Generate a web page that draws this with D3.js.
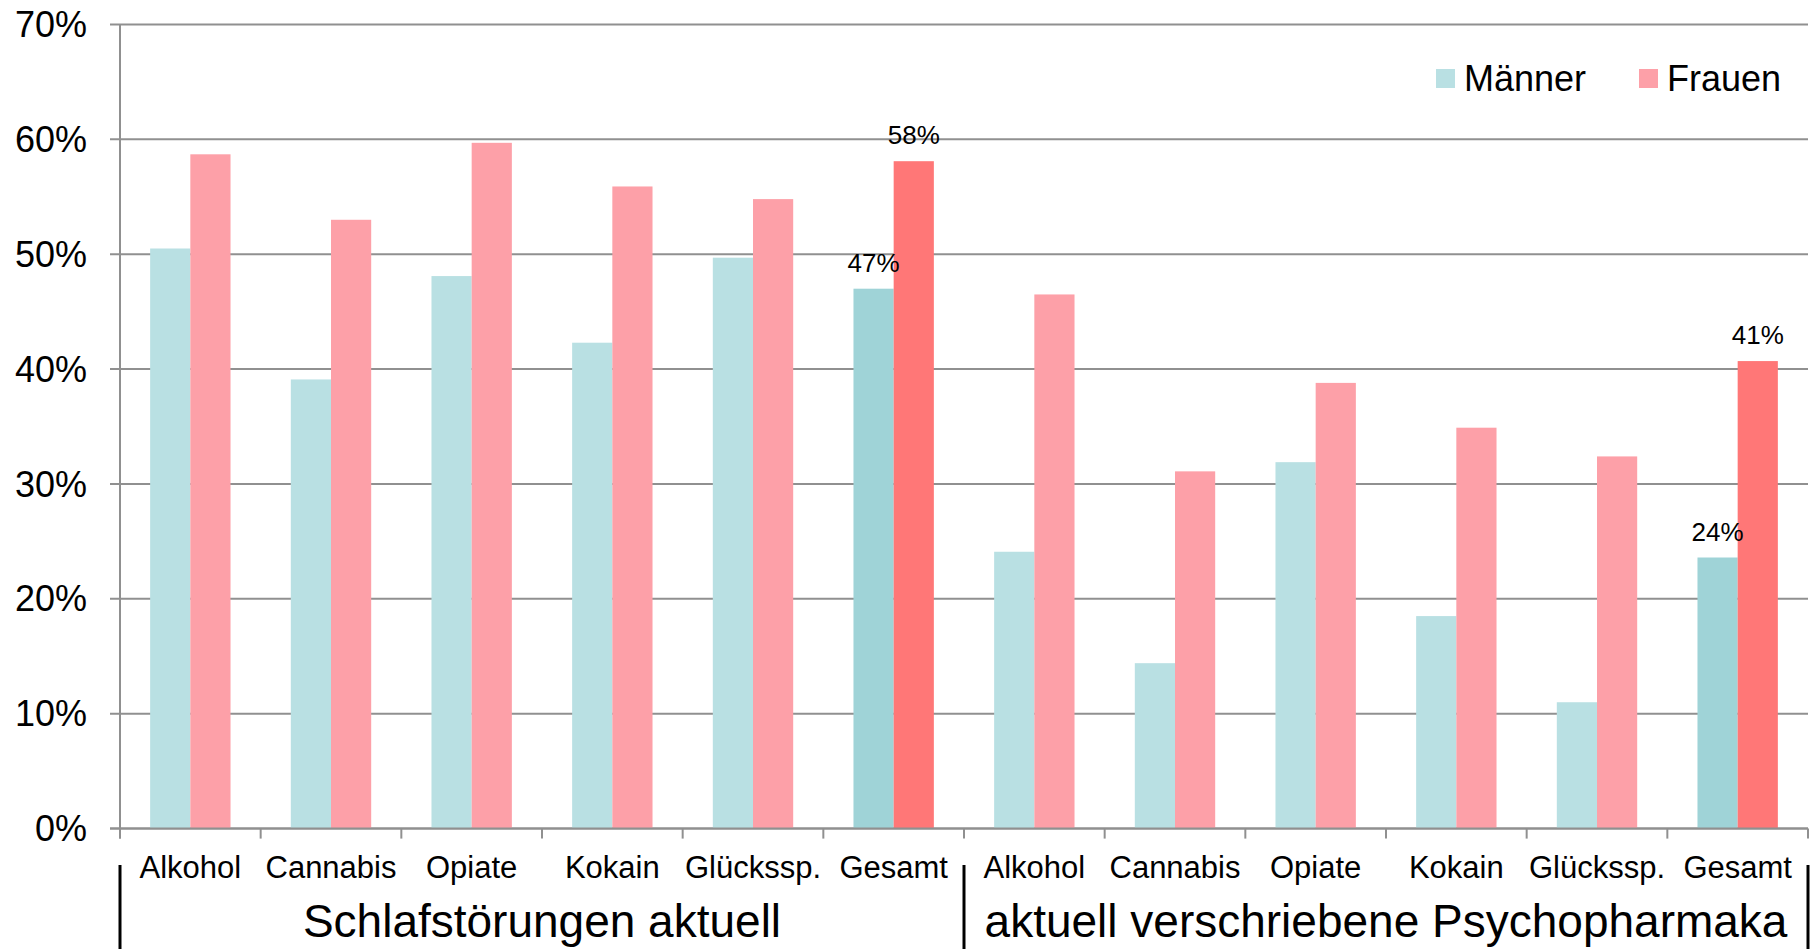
<!DOCTYPE html>
<html><head><meta charset="utf-8">
<script src="https://cdn.jsdelivr.net/npm/d3@7/dist/d3.min.js"></script>
<style>
html,body{margin:0;padding:0;background:#fff;}
svg{display:block;font-family:"Liberation Sans",Arial,sans-serif;}
</style></head>
<body>
<svg id="chart" width="1816" height="949"></svg>
<script>
const categories = ["Alkohol","Cannabis","Opiate","Kokain","Glückssp.","Gesamt",
                    "Alkohol","Cannabis","Opiate","Kokain","Glückssp.","Gesamt"];
const groups = ["Schlafstörungen aktuell","aktuell verschriebene Psychopharmaka"];
const groupOf = [0,0,0,0,0,0,1,1,1,1,1,1];
const series = ["Männer","Frauen"];
const maenner = [50.5,39.1,48.1,42.3,49.7,47.0, 24.1,14.4,31.9,18.5,11.0,23.6];
const frauen  = [58.7,53.0,59.7,55.9,54.8,58.1, 46.5,31.1,38.8,34.9,32.4,40.7];
const labelsMaenner = [null,null,null,null,null,"47%", null,null,null,null,null,"24%"];
const labelsFrauen  = [null,null,null,null,null,"58%", null,null,null,null,null,"41%"];
const highlight = [false,false,false,false,false,true, false,false,false,false,false,true];
const yTicks = [0,10,20,30,40,50,60,70];

const svg = d3.select("#chart");
const pLeft = 120, pRight = 1808, pTop = 24.5, pBottom = 828.6;
const idx = d3.range(categories.length);
const x = d3.scaleBand().domain(idx).range([pLeft, pRight]).padding(0);
const xs = d3.scaleBand().domain(series).range([0, x.bandwidth()]).paddingInner(0).paddingOuter(0.75);
const y = d3.scaleLinear().domain([0,70]).range([pBottom, pTop]);

const colors = {
  "Männer": ["#B9E0E3", "#9FD3D7"],
  "Frauen": ["#FDA0A8", "#FF7777"]
};
const gridColor = "#909090";

// gridlines
svg.append("g").selectAll("line").data(yTicks).join("line")
  .attr("x1", pLeft - 10).attr("x2", pRight)
  .attr("y1", d => y(d)).attr("y2", d => y(d))
  .attr("stroke", gridColor).attr("stroke-width", 2);

// y labels
svg.append("g").selectAll("text").data(yTicks).join("text")
  .attr("x", 87).attr("y", d => y(d)).attr("dy", "0.35em")
  .attr("text-anchor", "end").attr("font-size", 36).attr("fill", "#000")
  .text(d => d + "%");

// bars
const data = idx.map(i => ({i, vals: [{s:"Männer", v: maenner[i], lab: labelsMaenner[i]}, {s:"Frauen", v: frauen[i], lab: labelsFrauen[i]}]}));
const cg = svg.append("g").selectAll("g").data(data).join("g")
  .attr("transform", d => `translate(${x(d.i)},0)`);
cg.selectAll("rect").data(d => d.vals.map(v => ({...v, i: d.i}))).join("rect")
  .attr("x", d => xs(d.s)).attr("width", xs.bandwidth())
  .attr("y", d => y(d.v)).attr("height", d => y(0) - y(d.v))
  .attr("fill", d => colors[d.s][highlight[d.i] ? 1 : 0]);
cg.selectAll("text").data(d => d.vals.filter(v => v.lab)).join("text")
  .attr("x", d => xs(d.s) + xs.bandwidth()/2).attr("y", d => y(d.v) - 17)
  .attr("text-anchor", "middle").attr("font-size", 26).attr("fill", "#000")
  .text(d => d.lab);

// axes lines
svg.append("line").attr("x1", pLeft - 10).attr("x2", pRight).attr("y1", y(0)).attr("y2", y(0))
  .attr("stroke", gridColor).attr("stroke-width", 2);
svg.append("line").attr("x1", pLeft).attr("x2", pLeft).attr("y1", y(70)).attr("y2", y(0) + 10)
  .attr("stroke", gridColor).attr("stroke-width", 2);
const tickXs = idx.map(i => x(i)).concat([pRight]);
svg.append("g").selectAll("line").data(tickXs).join("line")
  .attr("x1", d => d).attr("x2", d => d).attr("y1", y(0)).attr("y2", y(0) + 10)
  .attr("stroke", gridColor).attr("stroke-width", 2);

// category labels
svg.append("g").selectAll("text").data(idx).join("text")
  .attr("x", i => x(i) + x.bandwidth()/2).attr("y", 878)
  .attr("text-anchor", "middle").attr("font-size", 31).attr("fill", "#000")
  .text(i => categories[i]);

// group labels + separators
groups.forEach((g, gi) => {
  const members = idx.filter(i => groupOf[i] === gi);
  const x0 = x(members[0]), x1 = x(members[members.length-1]) + x.bandwidth();
  svg.append("text").attr("x", (x0 + x1)/2).attr("y", 937)
    .attr("text-anchor", "middle").attr("font-size", 46).attr("fill", "#000").text(g);
});
const sepXs = [pLeft, x(6), pRight];
svg.append("g").selectAll("line").data(sepXs).join("line")
  .attr("x1", d => d).attr("x2", d => d).attr("y1", 865).attr("y2", 949)
  .attr("stroke", "#000").attr("stroke-width", 3);

// legend
const legX = [1436, 1639];
series.forEach((s, k) => {
  svg.append("rect").attr("x", legX[k]).attr("y", 69).attr("width", 19).attr("height", 19)
    .attr("fill", colors[s][0]);
  svg.append("text").attr("x", legX[k] + 28).attr("y", 91).attr("font-size", 36).attr("fill", "#000").text(s);
});
</script>
</body></html>
